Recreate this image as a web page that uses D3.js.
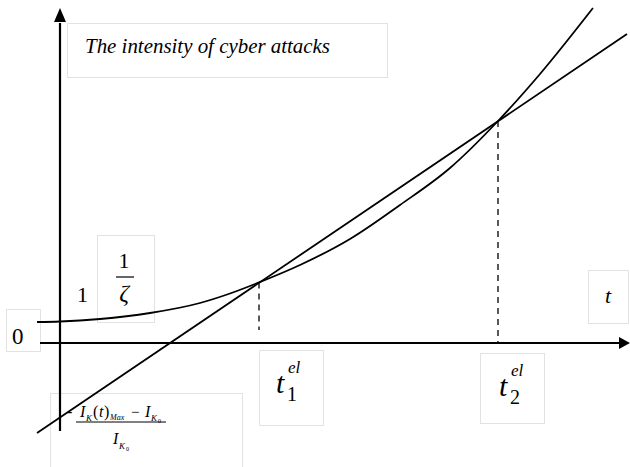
<!DOCTYPE html>
<html><head><meta charset="utf-8">
<script src="https://cdn.jsdelivr.net/npm/d3@7"></script></head>
<body style="margin:0">
<div id="vis"></div>
<script>
// curve of cyber attack intensity
const curveT = [-1.15, 0, 2, 4.5, 7, 8.5, 9.95, 12, 14.5, 17, 19.5, 21.9, 24, 26.65];
const curveV = [1.05, 1.075, 1.2, 1.5, 2.0, 2.475, 3.03, 3.9, 5.2, 6.9, 8.75, 11.1, 13.45, 16.75];
// straight line
const lineT = [-1.15, 28.35];
const lineV = [-4.5, 15.45];
// crossing points t1, t2
const elT = [9.95, 21.9];
const elV = [3.03, 11.1];
const elFloor = [0.65, 0];

const width = 630, height = 467;

const svg = d3.select("#vis").append("svg")
  .attr("width", width)
  .attr("height", height)
  .style("display", "block");

const x = d3.scaleLinear().domain([0, 28.5]).range([60, 630]);
const y = d3.scaleLinear().domain([0, 16.75]).range([343, 8]);

const ink = "#000";
const boxStroke = "#e2e2e2";

// label boxes
const boxes = [
  [67, 23, 320, 54],
  [97, 235, 57, 87],
  [6, 309, 34, 42],
  [50, 393, 192, 80],
  [259, 350, 64, 75],
  [480, 353, 64, 70],
  [588, 270, 40, 53]
];
svg.selectAll(".box")
  .data(boxes)
  .join("rect")
  .attr("class", "box")
  .attr("x", d => d[0] + 0.5)
  .attr("y", d => d[1] + 0.5)
  .attr("width", d => d[2])
  .attr("height", d => d[3])
  .attr("fill", "#fff")
  .attr("stroke", boxStroke)
  .attr("stroke-width", 1);

// axes
svg.append("line")
  .attr("x1", x(-1)).attr("x2", x(28))
  .attr("y1", y(0)).attr("y2", y(0))
  .attr("stroke", ink).attr("stroke-width", 2.2);
svg.append("path")
  .attr("d", `M${x(28.5)},${y(0)} L${x(27.95)},${y(0) - 6} L${x(27.95)},${y(0) + 6} Z`)
  .attr("fill", ink);

svg.append("line")
  .attr("x1", x(0)).attr("x2", x(0))
  .attr("y1", y(-4.4)).attr("y2", y(16))
  .attr("stroke", ink).attr("stroke-width", 2.2);
svg.append("path")
  .attr("d", `M${x(0)},${y(16.75)} L${x(0) - 6},${y(16.05)} L${x(0) + 6},${y(16.05)} Z`)
  .attr("fill", ink);

// dashed drop lines
svg.selectAll(".drop")
  .data(elT)
  .join("line")
  .attr("class", "drop")
  .attr("x1", d => x(d)).attr("x2", d => x(d))
  .attr("y1", (d, i) => y(elV[i])).attr("y2", (d, i) => y(elFloor[i]))
  .attr("stroke", ink)
  .attr("stroke-width", 1.3)
  .attr("stroke-dasharray", "6,5");

// straight line
svg.append("path")
  .datum(lineT.map((t, i) => [t, lineV[i]]))
  .attr("d", d3.line().x(d => x(d[0])).y(d => y(d[1])))
  .attr("fill", "none")
  .attr("stroke", ink)
  .attr("stroke-width", 1.8);

// curve
svg.append("path")
  .datum(curveT.map((t, i) => [t, curveV[i]]))
  .attr("d", d3.line().x(d => x(d[0])).y(d => y(d[1])).curve(d3.curveMonotoneX))
  .attr("fill", "none")
  .attr("stroke", ink)
  .attr("stroke-width", 1.8);

// text helper
function txt(s, px, py, size, italic, anchor) {
  return svg.append("text")
    .attr("x", px).attr("y", py)
    .style("font-family", `"Liberation Serif"`)
    .style("font-style", italic ? "italic" : "normal")
    .style("font-size", size + "px")
    .attr("text-anchor", anchor || "start")
    .text(s);
}

txt("The intensity of cyber attacks", 85, 53, 22, true)
  .attr("textLength", 245).attr("lengthAdjust", "spacingAndGlyphs");

txt("0", 12, 344, 23, false);
txt("1", 77, 302, 22, false);
txt("1", 124, 268, 22, false, "middle");
svg.append("line").attr("x1", 116).attr("x2", 134).attr("y1", 277).attr("y2", 277)
  .attr("stroke", ink).attr("stroke-width", 1.2);
txt("ζ", 124, 301, 24, true, "middle");

txt("t", 605, 303, 22, true);

// t1 / t2 labels
elT.forEach((t, i) => {
  const bx = i === 0 ? 276 : 499;
  const by = i === 0 ? 393 : 396;
  txt("t", bx, by, 30, true);
  txt("el", bx + 12, by - 20, 17, true);
  txt(String(i + 1), bx + 11, by + 8, 20, false);
});

// formula below the axis
txt("-", 67, 417, 16, false);
txt("I", 80, 417, 16, true);
txt("K", 86, 421, 9, true);
txt("(", 93, 417, 16, false);
txt("t", 99, 417, 16, true);
txt(")", 104, 417, 16, false);
txt("Max", 110, 420, 8, true);
txt("\u2212", 131, 417, 15, false);
txt("I", 145, 417, 16, true);
txt("K", 151, 421, 9, true);
txt("0", 158, 423, 6, false);
svg.append("line").attr("x1", 76).attr("x2", 166).attr("y1", 422).attr("y2", 422)
  .attr("stroke", ink).attr("stroke-width", 1);
txt("I", 113, 444, 16, true);
txt("K", 119, 449, 9, true);
txt("0", 126, 451, 6, false);
</script>
</body></html>
